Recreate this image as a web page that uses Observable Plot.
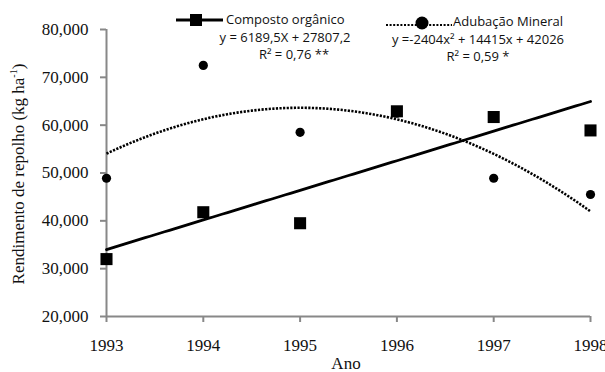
<!DOCTYPE html>
<html><head><meta charset="utf-8">
<script src="https://cdn.jsdelivr.net/npm/d3@7"></script>
<script src="https://cdn.jsdelivr.net/npm/@observablehq/plot@0.6"></script>
<style>body{margin:0;background:#fff}</style>
</head><body><div id="chart"></div>
<script>
// ---- data ----
const years = [1993, 1994, 1995, 1996, 1997, 1998];
const composto = [32000, 41800, 39500, 62900, 61700, 58900];
const mineral = [48900, 72500, 58500, 62500, 48900, 45500];
const linCoef = [6189.5, 27807.2];          // y = a*X + b, X = 1..6
const quadCoef = [-2404, 14415, 42026];     // y = a*x² + b*x + c
const yTicks = [20000, 30000, 40000, 50000, 60000, 70000, 80000];
const seriesNames = ["Composto orgânico", "Adubação Mineral"];
const eqTexts = ["y = 6189,5X + 27807,2", "y =-2404x² + 14415x + 42026"];
const r2Texts = ["R² = 0,76 **", "R² = 0,59 *"];
const xTitle = "Ano";
const yTitle = "Rendimento de repolho (kg ha";

const pts = years.map((y, i) => ({year: y, comp: composto[i], min: mineral[i]}));
const xs = d3.range(1993, 1998.001, 0.05);
const linLine = xs.map(t => ({year: t, v: linCoef[0] * (t - 1992) + linCoef[1]}));
const quadLine = xs.map(t => { const k = t - 1992; return {year: t, v: quadCoef[0]*k*k + quadCoef[1]*k + quadCoef[2]}; });

const plot = Plot.plot({
  width: 605, height: 372,
  marginLeft: 106, marginRight: 15, marginTop: 29, marginBottom: 56,
  style: {fontFamily: "'Liberation Serif', serif", fontSize: "17px", color: "#111", background: "#fff"},
  x: {domain: [1993, 1998]},
  y: {domain: [20000, 80000]},
  marks: [
    Plot.axisY({ticks: yTicks, tickFormat: d3.format(","), tickSize: 6, tickPadding: 12, stroke: "#888", strokeWidth: 2, label: null}),
    Plot.axisX({ticks: years, tickFormat: d => String(d), tickSize: 6, tickPadding: 16, stroke: "#888", strokeWidth: 2, label: null}),
    Plot.ruleX([1993], {stroke: "#888", strokeWidth: 2}),
    Plot.ruleY([20000], {stroke: "#888", strokeWidth: 2}),
    Plot.line(quadLine, {x: "year", y: "v", stroke: "#000", strokeWidth: 2.6, strokeDasharray: "2.2 1.4", strokeLinecap: "butt"}),
    Plot.line(linLine, {x: "year", y: "v", stroke: "#000", strokeWidth: 2.8}),
    Plot.dot(pts, {x: "year", y: "min", r: 4.6, fill: "#000", symbol: "circle"}),
    Plot.dot(pts, {x: "year", y: "comp", r: 6.8, fill: "#000", symbol: "square"})
  ]
});
document.getElementById("chart").appendChild(plot);

// ---- titles & legend ----
const svg = d3.select(plot);
svg.append("text").attr("x", 346).attr("y", 365).attr("text-anchor", "middle").attr("dominant-baseline", "middle")
  .style("font-family", "'Liberation Serif', serif").style("font-size", "17px").attr("fill", "#111").text(xTitle);
const yt = svg.append("text").attr("transform", "translate(20,174) rotate(-90)").attr("text-anchor", "middle").attr("dominant-baseline", "middle")
  .style("font-family", "'Liberation Serif', serif").style("font-size", "17px").attr("fill", "#111");
yt.append("tspan").text(yTitle);
yt.append("tspan").attr("baseline-shift", "super").style("font-size", "10px").text("-1");
yt.append("tspan").text(")");

const lg = svg.append("g").style("font-family", "'Open Sans', sans-serif").style("font-size", "13px").attr("fill", "#111");
// series 1
lg.append("line").attr("x1", 176).attr("x2", 223).attr("y1", 20).attr("y2", 20).style("stroke", "#000").style("stroke-width", "3px");
lg.append("rect").attr("x", 190).attr("y", 14).attr("width", 12).attr("height", 12).attr("fill", "#000");
lg.append("text").attr("x", 226).attr("y", 21).attr("text-anchor", "start").attr("dominant-baseline", "middle").text(seriesNames[0]);
lg.append("text").attr("x", 285).attr("y", 39).attr("text-anchor", "middle").attr("dominant-baseline", "middle").text(eqTexts[0]);
lg.append("text").attr("x", 294).attr("y", 56).attr("text-anchor", "middle").attr("dominant-baseline", "middle").text(r2Texts[0]);
// series 2
lg.append("line").attr("x1", 386).attr("x2", 452).attr("y1", 25).attr("y2", 25).style("stroke", "#000").style("stroke-width", "2px").style("stroke-dasharray", "2 1.6");
lg.append("circle").attr("cx", 422).attr("cy", 23).attr("r", 6.5).attr("fill", "#000");
lg.append("text").attr("x", 453).attr("y", 23).attr("text-anchor", "start").attr("dominant-baseline", "middle").text(seriesNames[1]);
lg.append("text").attr("x", 478).attr("y", 41).attr("text-anchor", "middle").attr("dominant-baseline", "middle").text(eqTexts[1]);
lg.append("text").attr("x", 478).attr("y", 58).attr("text-anchor", "middle").attr("dominant-baseline", "middle").text(r2Texts[1]);
</script>
</body></html>
